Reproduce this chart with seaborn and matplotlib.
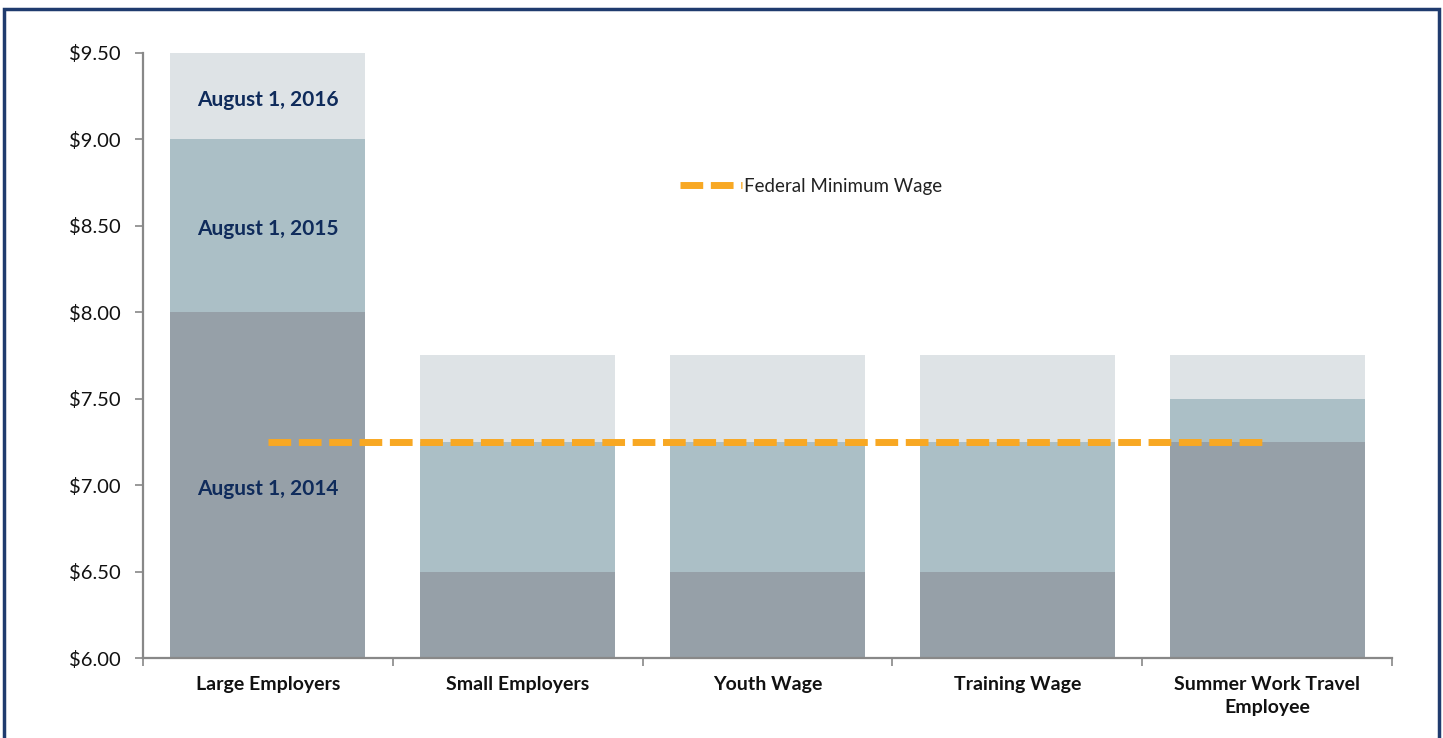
import pandas as pd
import seaborn as sns
import matplotlib.pyplot as plt
from matplotlib.patches import Rectangle
from matplotlib.ticker import FuncFormatter, FixedLocator

categories = ['Large Employers', 'Small Employers', 'Youth Wage',
              'Training Wage', 'Summer Work Travel\nEmployee']
wage_2014 = [8.00, 6.50, 6.50, 6.50, 7.25]
wage_2015 = [9.00, 7.25, 7.25, 7.25, 7.50]
wage_2016 = [9.50, 7.75, 7.75, 7.75, 7.75]
federal_min = [7.25, 7.25, 7.25, 7.25, 7.25]
stage_labels = ['August 1, 2014', 'August 1, 2015', 'August 1, 2016']

df = pd.DataFrame({'category': categories, '2014': wage_2014,
                   '2015': wage_2015, '2016': wage_2016,
                   'federal': federal_min})

sns.set_style('white')
plt.rcParams['font.family'] = ['Lato', 'DejaVu Sans']

fig = plt.figure(figsize=(14.43, 7.38), dpi=100)
ax = fig.add_axes([0.0991, 0.1084, 0.8656, 0.8198])

# stacked bars: draw the tallest first, then overlay the lower stages
for col, color in [('2016', '#dee3e6'), ('2015', '#abbfc6'), ('2014', '#96a0a8')]:
    sns.barplot(data=df, x='category', y=col, order=categories, color=color,
                width=0.78, saturation=1, edgecolor='none', ax=ax)

sns.lineplot(x=list(range(len(categories))), y=federal_min, ax=ax,
             color='#f8a823', linewidth=5, label='Federal Minimum Wage')
ax.lines[-1].set_dashes([3.27, 1.1])

ax.set_ylim(6.0, 9.5)
ax.set_xlim(-0.5, len(categories) - 0.5)
ax.set_yticks([6.0, 6.5, 7.0, 7.5, 8.0, 8.5, 9.0, 9.5])
ax.yaxis.set_major_formatter(FuncFormatter(lambda v, p: '${:.2f}'.format(v)))
ax.set_xlabel('')
ax.set_ylabel('')

ax.tick_params(axis='x', which='major', length=0, pad=13, labelsize=14)
for t in ax.get_xticklabels():
    t.set_fontweight('bold')
    t.set_color('#111111')
    t.set_linespacing(1.45)
ax.xaxis.set_minor_locator(FixedLocator([i - 0.5 for i in range(len(categories) + 1)]))
ax.tick_params(axis='x', which='minor', length=6, width=1.2, color='#888888', direction='out', bottom=True)
ax.tick_params(axis='y', length=6, width=1.2, color='#888888', direction='out', left=True,
               labelsize=14.5, labelcolor='#111111', pad=10)

for s in ['top', 'right']:
    ax.spines[s].set_visible(False)
for s in ['left', 'bottom']:
    ax.spines[s].set_color('#888888')
    ax.spines[s].set_linewidth(1.6)

# stage labels on the first bar
for yv, txt in zip([6.98, 8.48, 9.23], stage_labels):
    ax.text(0, yv, txt, ha='center', va='center', fontsize=15,
            fontweight='bold', color='#0f2b5b')

leg = ax.legend(loc='center', bbox_to_anchor=(0.535, 0.78), frameon=False,
                fontsize=13.5, handlelength=3.3, handletextpad=0.1)
for t in leg.get_texts():
    t.set_color('#222222')

# navy frame around the figure
fig.patches.append(Rectangle((0.003, -0.02), 0.994, 1.008, transform=fig.transFigure,
                             fill=False, edgecolor='#1f3b6e', linewidth=2.5))

fig.savefig('out.png', dpi=100)
